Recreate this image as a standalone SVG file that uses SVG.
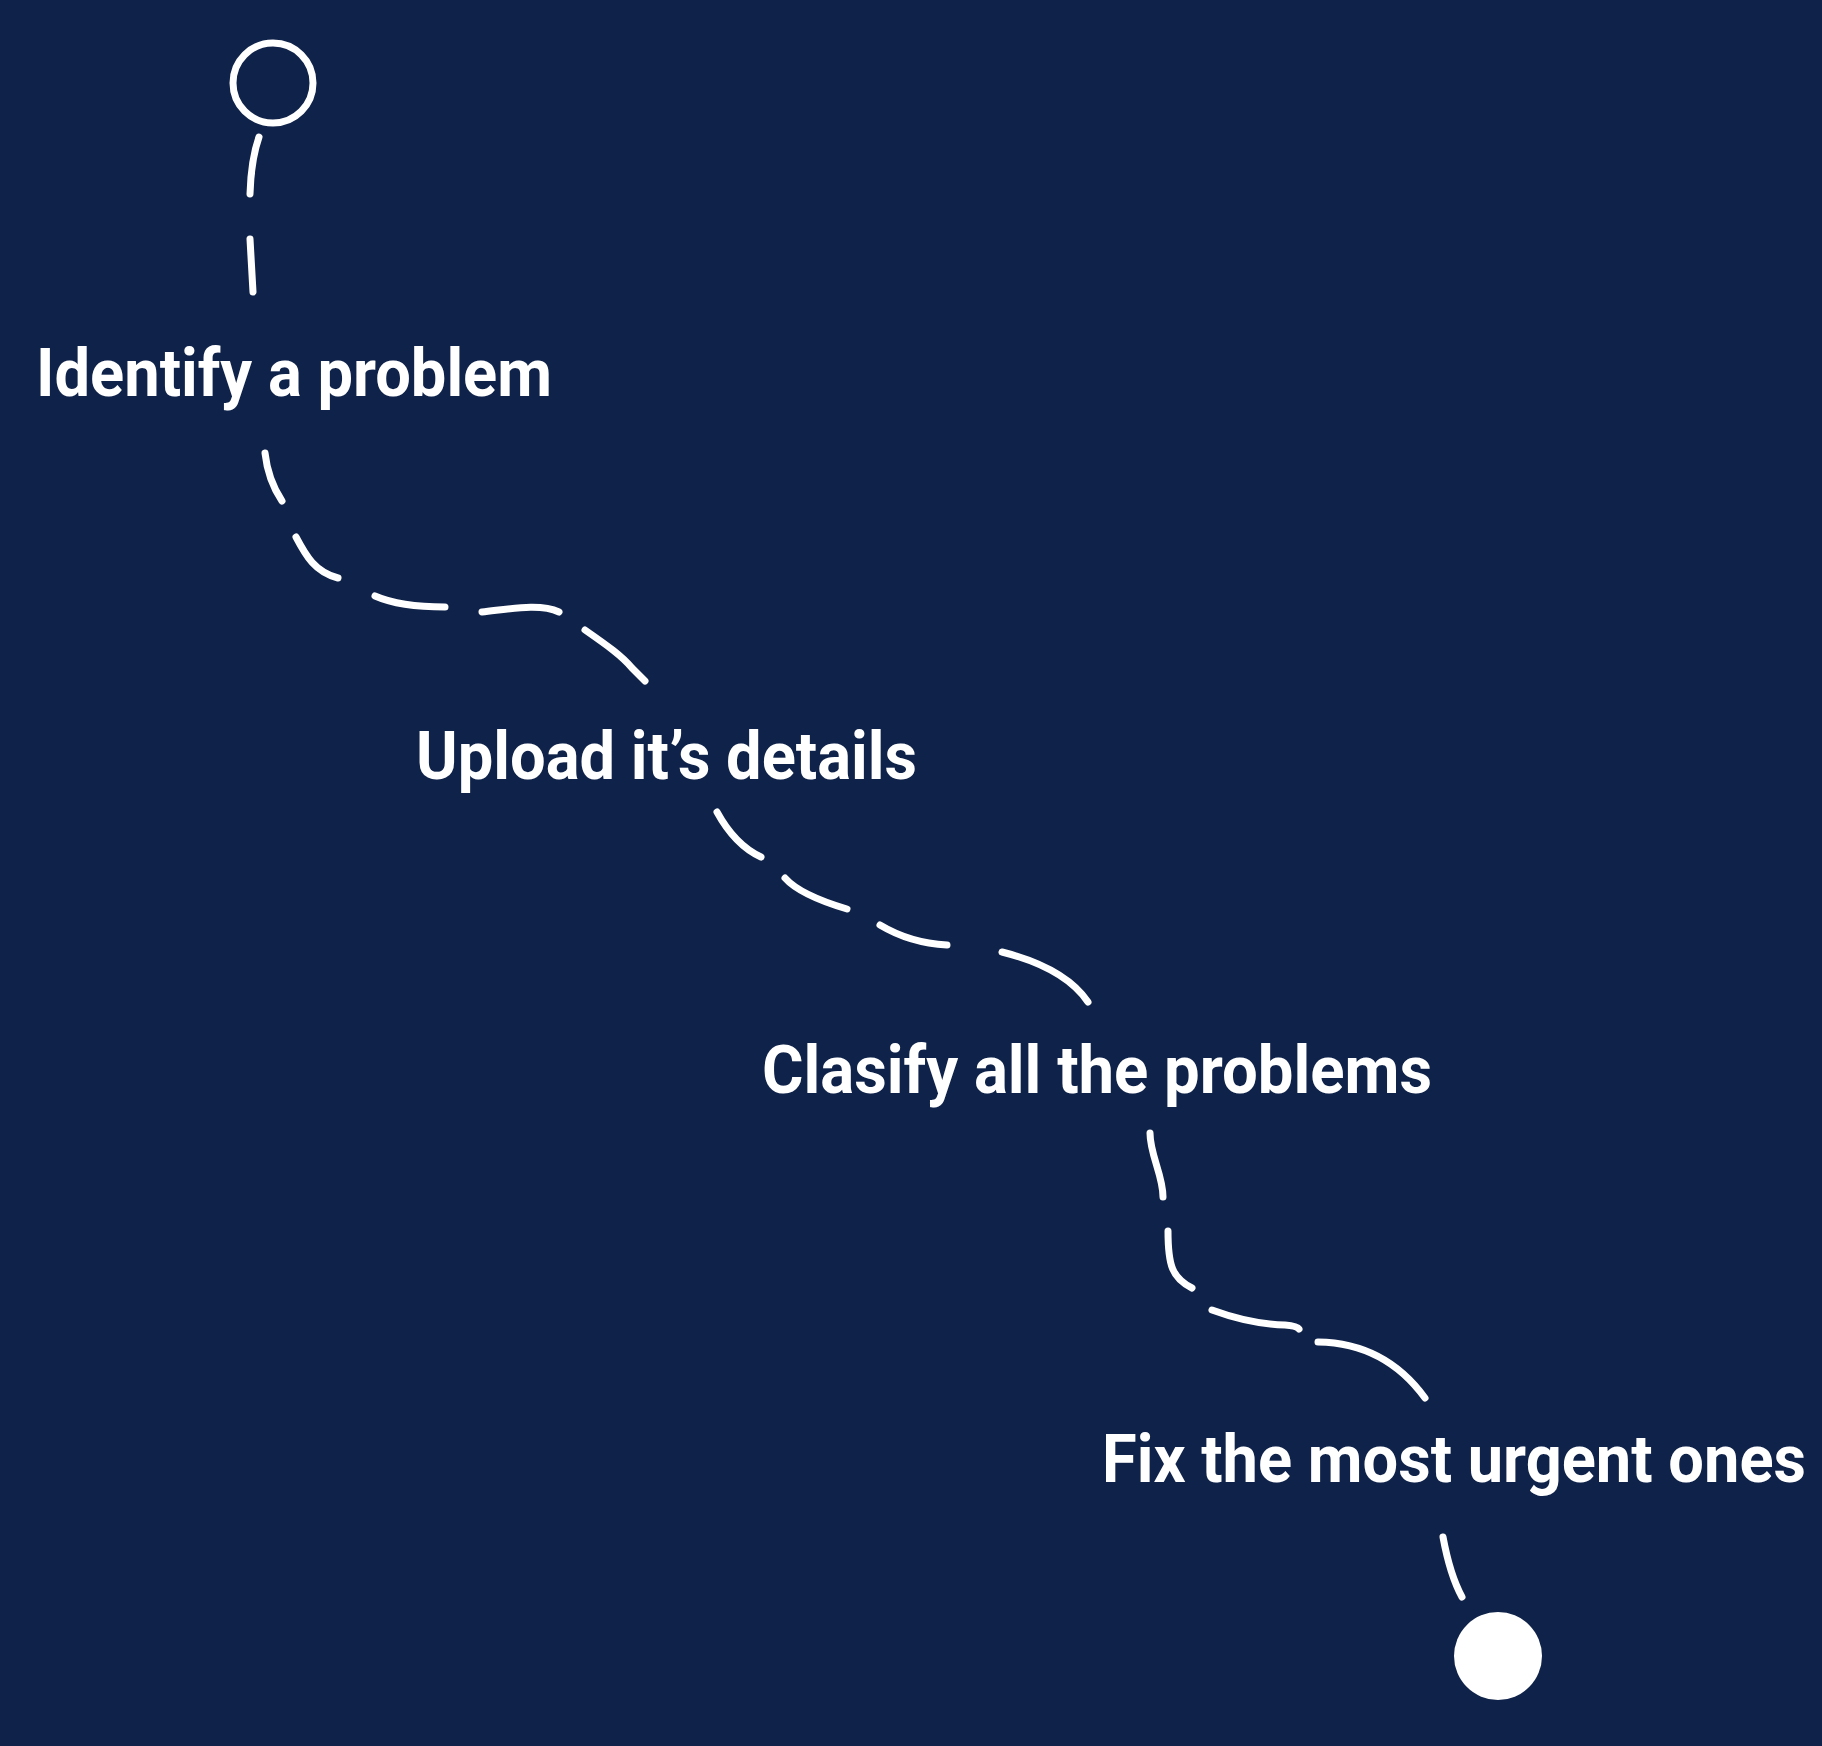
<svg xmlns="http://www.w3.org/2000/svg" width="1822" height="1746" viewBox="0 0 1822 1746">
  <style>
    .lbl { font-family: Roboto, "Liberation Sans", Arial, sans-serif; font-weight: 700; font-size: 66px; fill: #ffffff; }
    .dash { fill: none; stroke: #ffffff; stroke-width: 7; stroke-linecap: round; stroke-linejoin: round; }
  </style>
  <rect x="0" y="0" width="1822" height="1746" fill="#0F2249"/>
  <g id="connectors">
    <path class="dash" d="M259,137 Q251,160 250,194"/>
    <path class="dash" d="M250,239 L253,292"/>
    <path class="dash" d="M265,453 Q268,480 282,501"/>
    <path class="dash" d="M296,537 C306,556 315,572 338,578"/>
    <path class="dash" d="M375,596 Q400,607 445,607"/>
    <path class="dash" d="M482,612 C510,609 540,603 559,612"/>
    <path class="dash" d="M585,630 C608,646 622,656 632,668 Q640,676 645,681"/>
    <path class="dash" d="M717,812 Q735,845 761,857"/>
    <path class="dash" d="M785,878 Q800,895 847,909"/>
    <path class="dash" d="M880,925 Q910,943 947,945"/>
    <path class="dash" d="M1002,952 Q1065,968 1088,1002"/>
    <path class="dash" d="M1150,1133 C1150,1155 1163,1175 1163,1197"/>
    <path class="dash" d="M1168,1231 C1168,1265 1172,1278 1192,1288"/>
    <path class="dash" d="M1212,1310 Q1250,1324 1285,1325 Q1297,1326 1299,1329"/>
    <path class="dash" d="M1318,1342 Q1385,1343 1425,1398"/>
    <path class="dash" d="M1443,1537 Q1450,1575 1462,1597"/>
  </g>
  <g id="start">
    <circle cx="273" cy="83" r="40" fill="none" stroke="#ffffff" stroke-width="7"/>
  </g>
  <g id="step1">
    <text class="lbl" x="36" y="396" textLength="516" lengthAdjust="spacingAndGlyphs">Identify a problem</text>
  </g>
  <g id="step2">
    <text class="lbl" x="416" y="779" textLength="501" lengthAdjust="spacingAndGlyphs">Upload it’s details</text>
  </g>
  <g id="step3">
    <text class="lbl" x="762" y="1093" textLength="670" lengthAdjust="spacingAndGlyphs">Clasify all the problems</text>
  </g>
  <g id="step4">
    <text class="lbl" x="1806" y="1482" text-anchor="end" textLength="704" lengthAdjust="spacingAndGlyphs">Fix the most urgent ones</text>
  </g>
  <g id="end">
    <circle cx="1498" cy="1656" r="44" fill="#ffffff"/>
  </g>
</svg>
